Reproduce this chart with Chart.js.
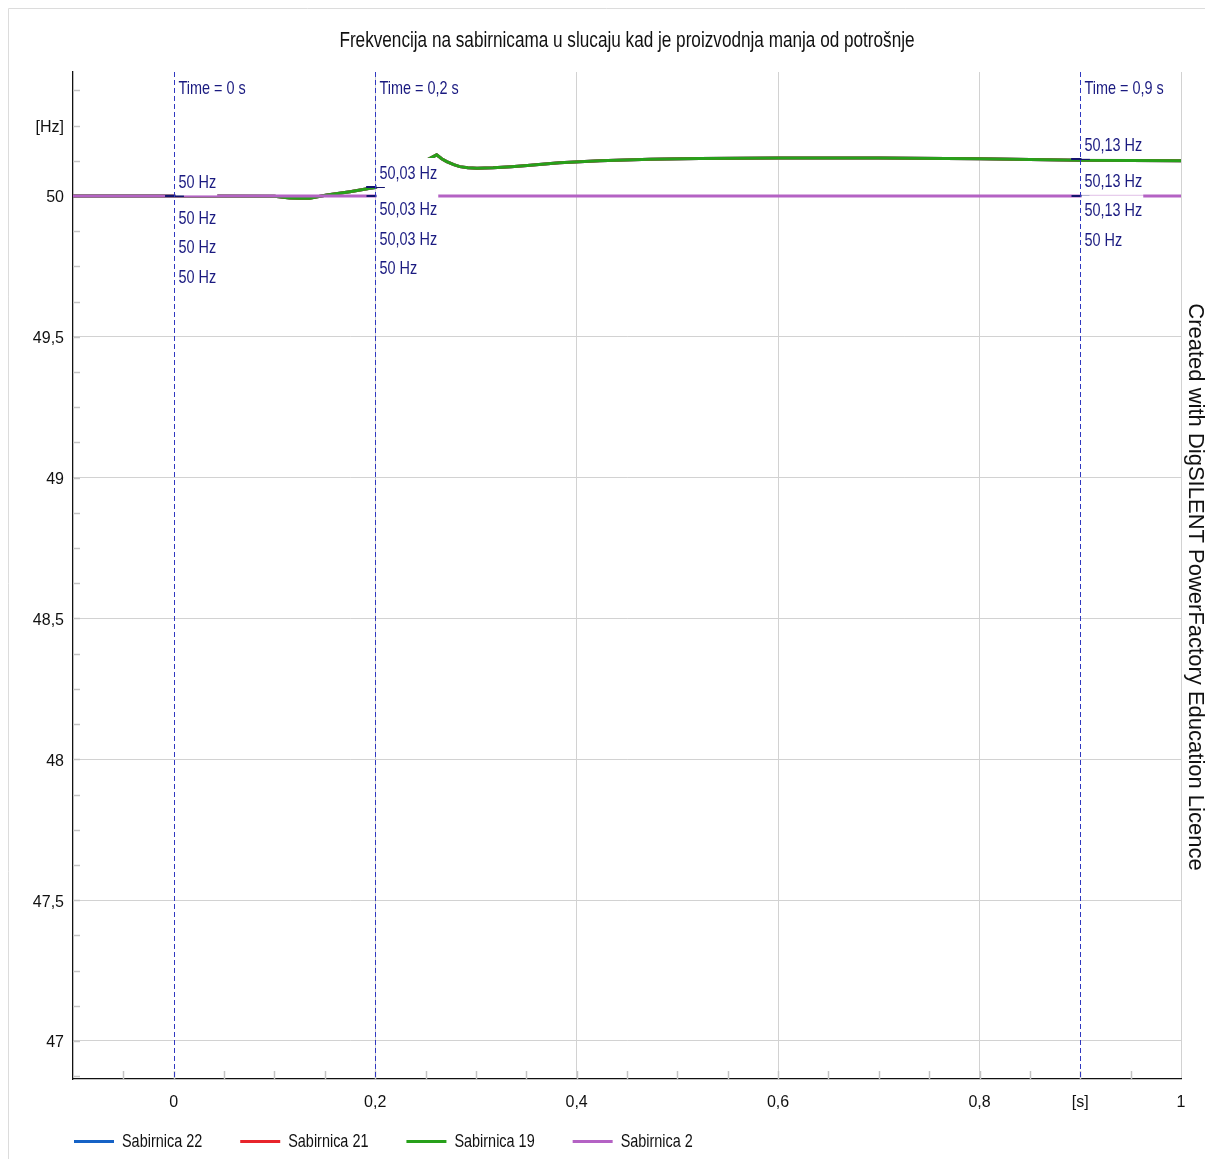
<!DOCTYPE html>
<html>
<head>
<meta charset="utf-8">
<script src="https://cdn.jsdelivr.net/npm/chart.js@4/dist/chart.umd.min.js"></script>
<style>
html,body{margin:0;padding:0;background:#fff;overflow:hidden}
#wrap{width:1205px;height:1159px;position:relative}
canvas{display:block}
</style>
</head>
<body>
<div id="wrap"><canvas id="c" width="1205" height="1159" style="width:1205px;height:1159px"></canvas></div>
<script>
// ---------------- data ----------------
const chartTitle = 'Frekvencija na sabirnicama u slucaju kad je proizvodnja manja od potrošnje';
const watermark = 'Created with DigSILENT PowerFactory Education Licence';
const seriesNames = ['Sabirnica 22', 'Sabirnica 21', 'Sabirnica 19', 'Sabirnica 2'];
const seriesColors = ['#1562c6', '#e8242b', '#27a01a', '#b462c4'];

const timeS = [-0.1, 0, 0.1, 0.115, 0.125, 0.135, 0.152, 0.175, 0.195, 0.2, 0.261, 0.266, 0.271, 0.278, 0.284, 0.292, 0.301, 0.317, 0.335, 0.351, 0.383, 0.423, 0.473, 0.522, 0.6, 0.7, 0.8, 0.9, 1.0];
const fSab22 = [50, 50, 49.999, 49.993, 49.992, 49.992, 50.003, 50.015, 50.027, 50.03, 50.146, 50.132, 50.122, 50.111, 50.104, 50.100, 50.098, 50.100, 50.104, 50.108, 50.118, 50.125, 50.130, 50.133, 50.135, 50.135, 50.132, 50.127, 50.125];
const fSab21 = [50, 50, 49.999, 49.993, 49.992, 49.992, 50.003, 50.015, 50.027, 50.03, 50.146, 50.132, 50.122, 50.111, 50.104, 50.100, 50.098, 50.100, 50.104, 50.108, 50.118, 50.125, 50.130, 50.133, 50.135, 50.135, 50.132, 50.127, 50.125];
const fSab19 = [50, 50, 49.999, 49.993, 49.992, 49.992, 50.003, 50.015, 50.027, 50.03, 50.146, 50.132, 50.122, 50.111, 50.104, 50.100, 50.098, 50.100, 50.104, 50.108, 50.118, 50.125, 50.130, 50.133, 50.135, 50.135, 50.132, 50.127, 50.125];
const timeSab2 = [-0.1, 0, 0.2, 0.9, 1.0];
const fSab2 = [50, 50, 50, 50, 50];

const cursorTimes = [0, 0.2, 0.9];
const cursorLabels = ['Time = 0 s', 'Time = 0,2 s', 'Time = 0,9 s'];
const cursorValues = [[50, 50, 50, 50], [50.03, 50.03, 50.03, 50], [50.13, 50.13, 50.13, 50]];

const xMin = -0.1, xMax = 1.0;
const yMin = 46.865, yMax = 50.44;
const xTickValues = [0, 0.2, 0.4, 0.6, 0.8, 0.9, 1.0];
const xTickLabels = ['0', '0,2', '0,4', '0,6', '0,8', '[s]', '1'];
const yTickValues = [47, 47.5, 48, 48.5, 49, 49.5, 50, 50.25];
const yTickLabels = ['47', '47,5', '48', '48,5', '49', '49,5', '50', '[Hz]'];
const xMinorStep = 0.05, yMinorStep = 0.125;
const xGridStep = 0.2, yGridStep = 0.5;

// ---------------- helpers ----------------
const FONT = "'Liberation Sans Narrow', 'Arial Narrow', 'Liberation Sans', Arial, sans-serif";
const SX = 0.78; // horizontal condensing to imitate a narrow face
const near = (a, b) => Math.abs(a - b) < 1e-6;
const isMult = (v, s) => near(Math.round(v / s) * s, v);
const fmtVal = v => (Number.isInteger(v) ? String(v) : v.toFixed(2).replace('.', ',')) + ' Hz';
function minorTicks(lo, hi, step) {
  const out = [];
  const start = Math.ceil((lo + 1e-9) / step);
  const end = Math.floor((hi - 1e-9) / step);
  for (let k = start; k <= end; k++) out.push(+(k * step).toFixed(6));
  return out;
}
function labelFor(values, labels, v) {
  const i = values.findIndex(t => near(t, v));
  return i >= 0 ? labels[i] : '';
}
function narrowText(ctx, txt, x, y, size, align, color) {
  ctx.save();
  ctx.font = size + 'px ' + FONT;
  ctx.fillStyle = color;
  ctx.textAlign = align;
  ctx.textBaseline = 'middle';
  ctx.translate(x, y);
  ctx.scale(SX, 1);
  ctx.fillText(txt, 0, 0);
  ctx.restore();
}
function narrowWidth(ctx, txt, size) {
  ctx.save();
  ctx.font = size + 'px ' + FONT;
  const w = ctx.measureText(txt).width * SX;
  ctx.restore();
  return w;
}

const seriesData = [
  timeS.map((t, i) => ({x: t, y: fSab22[i]})),
  timeS.map((t, i) => ({x: t, y: fSab21[i]})),
  timeS.map((t, i) => ({x: t, y: fSab19[i]})),
  timeSab2.map((t, i) => ({x: t, y: fSab2[i]}))
];

Chart.defaults.font.family = FONT;
Chart.defaults.font.size = 16;
Chart.defaults.color = '#111';

const LBL = 18.5;
const decor = {
  id: 'decor',
  beforeDraw(chart) {
    const ctx = chart.ctx;
    ctx.save();
    ctx.fillStyle = '#fff';
    ctx.fillRect(0, 0, chart.width, chart.height);
    ctx.strokeStyle = '#dcdcdc';
    ctx.lineWidth = 1;
    ctx.beginPath();
    ctx.moveTo(8.5, chart.height);
    ctx.lineTo(8.5, 8.5);
    ctx.lineTo(chart.width, 8.5);
    ctx.stroke();
    ctx.restore();
  },
  beforeDatasetsDraw(chart) {
    const ctx = chart.ctx, xs = chart.scales.x, ys = chart.scales.y, ca = chart.chartArea;
    ctx.save();
    ctx.strokeStyle = '#c4c4c4';
    ctx.lineWidth = 1.5;
    minorTicks(xMin, xMax, xMinorStep).forEach(v => {
      const px = Math.round(xs.getPixelForValue(v)) + 0.5;
      ctx.beginPath(); ctx.moveTo(px, ca.bottom); ctx.lineTo(px, ca.bottom - 8); ctx.stroke();
    });
    minorTicks(yMin, yMax, yMinorStep).forEach(v => {
      const py = Math.round(ys.getPixelForValue(v)) + 0.5;
      ctx.beginPath(); ctx.moveTo(ca.left, py); ctx.lineTo(ca.left + 7, py); ctx.stroke();
    });
    ctx.restore();
  },
  afterDatasetsDraw(chart) {
    const ctx = chart.ctx, xs = chart.scales.x, ys = chart.scales.y, ca = chart.chartArea;
    ctx.save();
    cursorTimes.forEach((t, i) => {
      const px = Math.round(xs.getPixelForValue(t)) + 0.5;
      const vals = cursorValues[i];
      // markers
      ctx.strokeStyle = '#14146e';
      ctx.lineWidth = 2;
      vals.forEach(v => {
        const py = Math.round(ys.getPixelForValue(v));
        ctx.beginPath(); ctx.moveTo(px - 9, py); ctx.lineTo(px + 9, py); ctx.stroke();
      });
      // label boxes
      const topY = ys.getPixelForValue(Math.max(...vals)) - 15;
      const offs = [0, 36, 65.5, 95];
      const items = vals.map((v, j) => ({txt: fmtVal(v), y: topY + offs[j]}));
      ctx.fillStyle = '#fff';
      items.forEach(it => {
        const w = narrowWidth(ctx, it.txt, LBL);
        ctx.fillRect(px + 1, it.y - 14.5, w + 4, 29);
      });
      // dashed cursor line
      ctx.strokeStyle = '#3038c0';
      ctx.lineWidth = 1;
      ctx.setLineDash([5, 3]);
      ctx.beginPath(); ctx.moveTo(px, ca.top); ctx.lineTo(px, ca.bottom); ctx.stroke();
      ctx.setLineDash([]);
      // texts
      narrowText(ctx, cursorLabels[i], px + 4, 89, LBL, 'left', '#1a1a80');
      items.forEach(it => narrowText(ctx, it.txt, px + 4, it.y + 1.5, LBL, 'left', '#1a1a80'));
    });
    ctx.restore();
  },
  afterDraw(chart) {
    const ctx = chart.ctx;
    ctx.save();
    // title
    narrowText(ctx, chartTitle, 627, 41, 22, 'center', '#111');
    // watermark
    ctx.save();
    ctx.translate(1195, 587);
    ctx.rotate(Math.PI / 2);
    ctx.font = "22px 'Liberation Sans', Arial, sans-serif";
    ctx.fillStyle = '#111';
    ctx.textAlign = 'center';
    ctx.textBaseline = 'middle';
    ctx.fillText(watermark, 0, 0);
    ctx.restore();
    // legend
    let x = 74;
    const ly = 1141.5;
    seriesNames.forEach((name, i) => {
      ctx.fillStyle = seriesColors[i];
      ctx.fillRect(x, ly - 1.5, 40, 3);
      narrowText(ctx, name, x + 48, ly, LBL, 'left', '#111');
      x += 48 + narrowWidth(ctx, name, LBL) + 38;
    });
    ctx.restore();
  }
};

new Chart(document.getElementById('c'), {
  type: 'line',
  data: {
    datasets: seriesData.map((d, i) => ({
      label: seriesNames[i],
      data: d,
      order: seriesNames.length - 1 - i,
      borderColor: seriesColors[i],
      backgroundColor: seriesColors[i],
      borderWidth: 3,
      pointRadius: 0,
      fill: false,
      tension: 0
    }))
  },
  options: {
    responsive: false,
    maintainAspectRatio: false,
    devicePixelRatio: 1,
    animation: false,
    layout: {padding: {top: 72, right: 24, left: 0, bottom: 0}},
    plugins: {legend: {display: false}, title: {display: false}, tooltip: {enabled: false}},
    scales: {
      x: {
        type: 'linear', min: xMin, max: xMax,
        afterBuildTicks: s => { s.ticks = minorTicks(xMin, xMax + 1e-3, xMinorStep).map(v => ({value: v})); },
        afterFit: s => { s.height = 80; },
        ticks: {autoSkip: false, maxRotation: 0, padding: 14, color: '#111',
          callback: v => labelFor(xTickValues, xTickLabels, v)},
        grid: {drawTicks: false, lineWidth: 1,
          color: c => (c.tick && isMult(c.tick.value, xGridStep) && !near(c.tick.value, 0)) ? '#d2d2d2' : 'rgba(0,0,0,0)'},
        border: {color: '#111', width: 1.3}
      },
      y: {
        type: 'linear', min: yMin, max: yMax,
        afterBuildTicks: s => { s.ticks = minorTicks(yMin, yMax, yMinorStep).map(v => ({value: v})); },
        afterFit: s => { s.width = 73; },
        ticks: {autoSkip: false, padding: 9, color: '#111', labelOffset: 2,
          callback: v => labelFor(yTickValues, yTickLabels, v)},
        grid: {drawTicks: false, lineWidth: 1,
          color: c => (c.tick && isMult(c.tick.value, yGridStep)) ? '#d2d2d2' : 'rgba(0,0,0,0)'},
        border: {color: '#111', width: 1.3}
      }
    }
  },
  plugins: [decor]
});
</script>
</body>
</html>
